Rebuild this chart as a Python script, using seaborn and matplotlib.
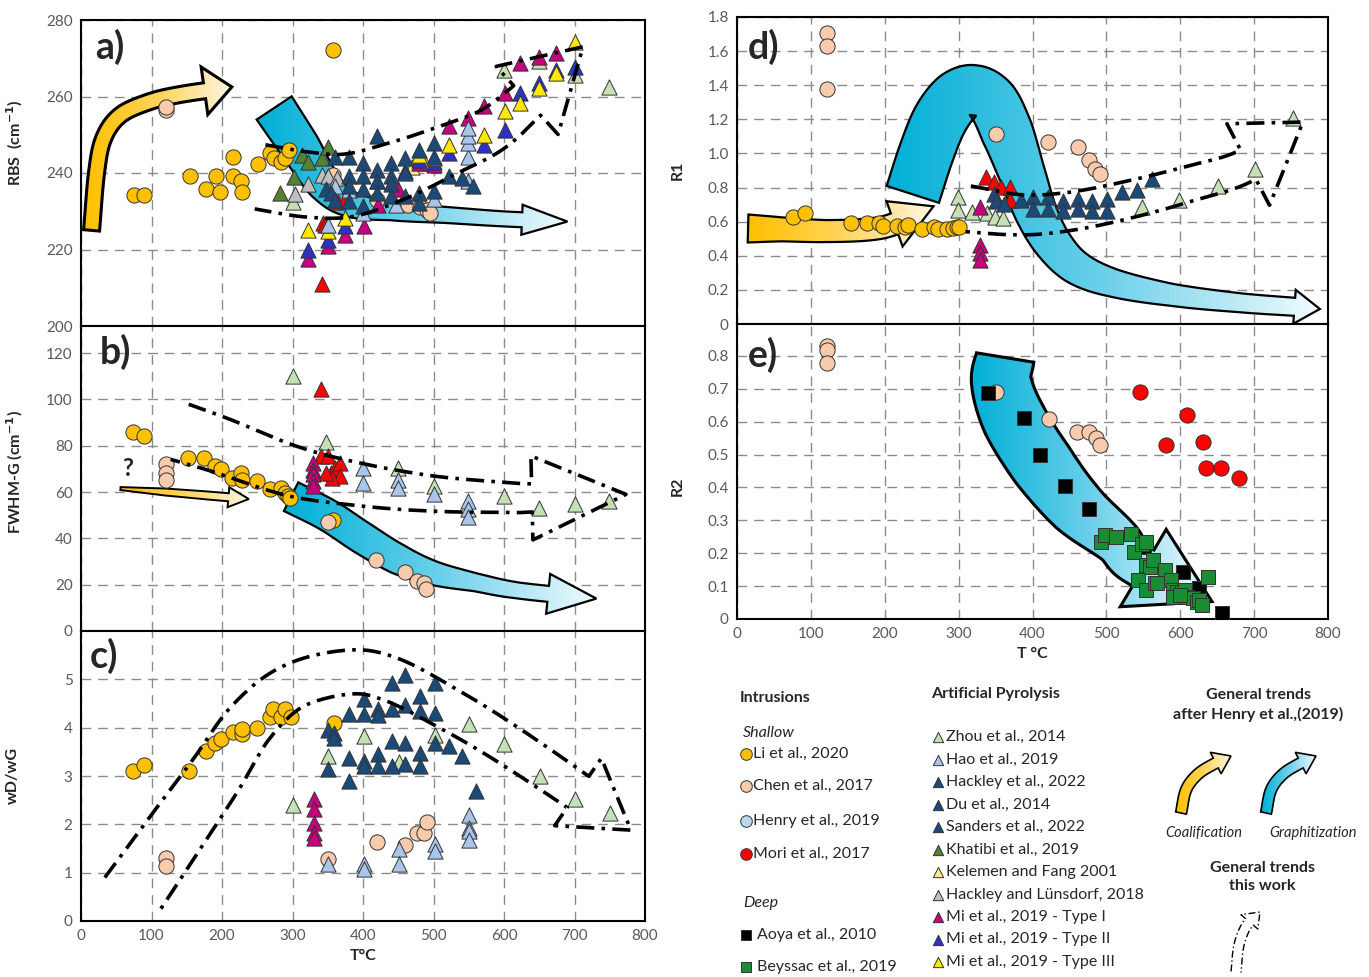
import numpy as np
import matplotlib
matplotlib.use('Agg')
import matplotlib.pyplot as plt
import seaborn as sns
from matplotlib.patches import Polygon
from matplotlib.colors import LinearSegmentedColormap

# ---------------- data (T in °C, value) ----------------
# a) RBS
a_li = [(75, 234.2), (90, 234.2), (154, 239.1), (177, 235.9), (191, 239.1), (197, 235), (215, 244.3), (216, 239.1),
        (227, 238), (229, 235), (251, 242.3), (268, 245.1), (274, 243.9), (284, 243), (289, 243.9), (295, 246.1), (358, 272.2)]
a_chen = [(121, 256.5), (121, 257.2), (357, 239.5), (420, 233), (464, 231.6), (481, 231.1), (491, 230.3), (495, 229.5)]
a_zhou = [(301, 232.5), (600, 266.8), (649, 269.4), (701, 265.7), (749, 262.4)]
a_hao = [(350, 226.5), (360, 236.5), (380, 235.5), (400, 229.6), (447, 231.7), (501, 233.2), (549, 237.8), (549, 244.3),
         (549, 247.8), (549, 249.6), (549, 251.7)]
a_grey = [(304, 234.5), (322, 237.1), (342, 239.5), (350, 239.2), (363, 238.7)]
a_khatibi = [(282, 234.8), (302, 239), (313, 244.7), (322, 242.9), (342, 243.9), (350, 246.8)]
a_kelemen = [(470, 241.5), (488, 242.5)]
a_mi1 = [(322, 217.6), (350, 220.9), (375, 223.9), (402, 226.1), (421, 231.7), (450, 235.7), (460, 240.4), (480, 242.6),
         (501, 242.2), (522, 252.2), (549, 254.3), (572, 257.4), (602, 260.9), (623, 268.7), (649, 270.4), (674, 271.3)]
a_mi2 = [(322, 220), (350, 222.6), (375, 226.1), (480, 243.5), (501, 243), (522, 245.2), (572, 247.4), (602, 251.3),
         (623, 260.9), (649, 263.5), (674, 267), (700, 267.8)]
a_mi3 = [(322, 225.2), (350, 224.8), (375, 228.3), (420, 237.8), (480, 244.6), (501, 243.9), (522, 247.4), (572, 250),
         (602, 256.1), (623, 258.3), (649, 262.2), (674, 266.1), (700, 274.3)]
a_red = [(342, 210.9), (343, 227), (346, 226.5), (364, 232.4), (374, 233)]
a_dblue = [(348, 235.7), (354, 234.8), (360, 233), (360, 244.3), (380, 244.3), (380, 239.1), (380, 236.5), (380, 232.6),
           (400, 242.6), (400, 239.1), (400, 235.7), (400, 231.5), (420, 249.6), (420, 240.9), (420, 238), (420, 234.8),
           (440, 242.6), (440, 239.1), (440, 237), (440, 233.9), (460, 243.9), (460, 240), (460, 233.9), (480, 246.1),
           (480, 234.8), (480, 232.2), (501, 247.8), (501, 244.3), (501, 235.2), (522, 239.1), (540, 238.7), (556, 236.5)]

# b) FWHM-G
b_li = [(74, 86), (90, 84), (152, 74.7), (175, 74.7), (190, 71.1), (198, 70.1), (214, 66.1), (227, 68.3), (229, 65.4),
        (250, 64.7), (268, 61.2), (284, 61.9), (289, 59.7), (294, 58.3), (297, 57.6), (357, 48.1)]
b_chen = [(120, 72.1), (120, 68.3), (120, 65.4), (350, 46.9), (419, 30.6), (459, 25.6), (476, 21.8), (486, 20.6), (490, 18.1)]
b_zhou = [(300, 110.2), (348, 81.8), (450, 70.4), (501, 62.6), (600, 58.3), (649, 53.3), (700, 55), (749, 56.2)]
b_hao = [(400, 70.4), (400, 64), (450, 65.4), (450, 61.9), (501, 59), (549, 56.2), (549, 52.6), (549, 49.1)]
b_red = [(340, 104.6), (340, 75.4), (350, 75.4), (354, 68.3), (360, 70.4), (368, 72.5), (368, 66.9), (356, 66.1), (348, 68.3)]
b_mi1 = [(329, 72.5), (329, 69.7), (329, 67.6), (329, 64.7), (329, 62.6)]

# c) wD/wG
c_li = [(74, 3.10), (90, 3.22), (153, 3.10), (177, 3.52), (190, 3.69), (198, 3.77), (216, 3.91), (228, 3.86), (229, 3.98),
        (250, 4.0), (268, 4.23), (272, 4.38), (284, 4.23), (289, 4.38), (298, 4.23), (359, 4.10)]
c_chen = [(120, 1.31), (120, 1.14), (351, 1.28), (420, 1.63), (460, 1.57), (476, 1.83), (486, 1.83), (491, 2.05)]
c_zhou = [(300, 2.41), (351, 3.41), (401, 3.83), (451, 3.28), (502, 3.84), (551, 4.07), (600, 3.66), (651, 3.0),
          (701, 2.53), (750, 2.23)]
c_hao = [(351, 1.17), (401, 1.17), (401, 1.07), (451, 1.48), (451, 1.17), (502, 1.59), (502, 1.45), (551, 2.19),
         (551, 1.93), (551, 1.86), (551, 1.68)]
c_mi1 = [(330, 2.52), (330, 2.31), (330, 2.03), (330, 1.83), (330, 1.72)]
c_dblue = [(351, 3.95), (359, 3.9), (359, 3.79), (351, 3.14), (380, 4.28), (380, 3.38), (380, 2.9), (401, 4.59), (401, 4.28),
           (401, 3.31), (401, 3.21), (421, 4.38), (421, 4.26), (421, 3.45), (421, 3.21), (441, 4.93), (441, 4.38),
           (441, 3.72), (441, 3.21), (460, 5.10), (460, 4.46), (460, 3.69), (460, 3.24), (481, 4.66), (481, 4.34),
           (481, 3.48), (481, 3.21), (502, 4.93), (502, 4.31), (502, 3.69), (522, 3.62), (541, 3.41), (560, 2.69)]

# d) R1
d_li = [(76, 0.626), (92, 0.65), (154, 0.591), (176, 0.591), (192, 0.591), (198, 0.577), (216, 0.577), (228, 0.568),
        (231, 0.583), (251, 0.558), (266, 0.568), (272, 0.558), (284, 0.558), (292, 0.562), (298, 0.568), (301, 0.568)]
d_chen = [(122, 1.706), (122, 1.628), (122, 1.378), (351, 1.112), (421, 1.070), (462, 1.037), (476, 0.959), (485, 0.910),
          (491, 0.881)]
d_zhou = [(299, 0.744), (299, 0.668), (318, 0.657), (338, 0.651), (349, 0.627), (360, 0.621), (548, 0.686), (598, 0.727),
          (651, 0.812), (701, 0.91), (752, 1.209)]
d_red = [(337, 0.862), (348, 0.832), (358, 0.803), (369, 0.803), (369, 0.727)]
d_mi1 = [(329, 0.686), (329, 0.463), (329, 0.416), (329, 0.375)]
d_dblue = [(348, 0.763), (351, 0.724), (361, 0.704), (384, 0.728), (401, 0.744), (401, 0.675), (421, 0.744), (421, 0.675),
           (441, 0.724), (441, 0.665), (462, 0.734), (462, 0.675), (481, 0.724), (481, 0.665), (501, 0.734), (501, 0.665),
           (521, 0.773), (541, 0.783), (562, 0.851)]

# e) R2
e_chen = [(122, 0.83), (122, 0.818), (122, 0.779), (351, 0.69), (422, 0.609), (460, 0.568), (476, 0.568), (486, 0.551),
          (491, 0.53)]
e_aoya = [(340, 0.688), (388, 0.612), (410, 0.5), (444, 0.405), (476, 0.334), (551, 0.22), (604, 0.144), (626, 0.093),
          (656, 0.017)]
e_mori = [(545, 0.69), (609, 0.62), (581, 0.53), (631, 0.538), (635, 0.459), (655, 0.459), (679, 0.428)]
e_beyssac = [(493, 0.235), (498, 0.255), (513, 0.25), (533, 0.258), (537, 0.205), (548, 0.228), (554, 0.235), (554, 0.164),
             (559, 0.158), (563, 0.179), (579, 0.149), (543, 0.119), (554, 0.088), (566, 0.109), (568, 0.109), (588, 0.119),
             (590, 0.088), (595, 0.082), (602, 0.082), (606, 0.088), (609, 0.067), (617, 0.064), (622, 0.052), (626, 0.058),
             (629, 0.043), (638, 0.128), (590, 0.067), (599, 0.073)]

# trend arrows: centreline T, value
a_coal_T = [15, 22, 32, 55, 95, 140, 214]
a_coal_v = [225, 240, 249, 255, 258.5, 260.5, 262.5]
a_graph_T = [274, 310, 345, 380, 440, 520, 600, 690]
a_graph_v = [257, 247, 237, 232, 230, 229, 228, 227.3]
a_this_T = [254, 320, 380, 450, 520, 580, 630, 712]
a_this_v = [239, 237, 236.8, 240.7, 246, 251, 258.5, 273]
b_coal_T = [56, 120, 180, 238]
b_coal_v = [61.5, 60, 58.5, 57]
b_graph_T = [298, 350, 400, 450, 500, 560, 620, 731]
b_graph_v = [58, 50, 40, 31, 25, 21, 17.5, 14]
b_this_T = [140, 200, 300, 400, 500, 600, 643, 773]
b_this_v = [86, 80, 69, 63, 59.3, 57.7, 57.5, 59]
c_this_T = [71, 130, 190, 240, 300, 380, 440, 520, 600, 705, 780]
c_this_v = [0.52, 1.75, 3.0, 4.1, 4.85, 5.15, 5.0, 4.4, 3.7, 2.67, 1.88]
d_coal_T = [15, 60, 120, 180, 215, 266]
d_coal_v = [0.56, 0.555, 0.545, 0.555, 0.59, 0.69]
d_graph_T = [238, 256, 275, 298, 322, 346, 366, 386, 405, 428, 460, 510, 590, 680, 757, 789]
d_graph_v = [0.76, 1.0, 1.2, 1.33, 1.37, 1.3, 1.12, 0.88, 0.65, 0.47, 0.33, 0.24, 0.17, 0.125, 0.1, 0.088]
d_this_T = [313, 384, 450, 525, 610, 692, 766]
d_this_v = [0.675, 0.64, 0.66, 0.724, 0.82, 0.935, 1.184]
e_graph_T = [363, 358, 375, 413, 460, 513, 544, 643]
e_graph_v = [0.795, 0.72, 0.607, 0.47, 0.34, 0.24, 0.163, 0.053]

# ---------------- styles ----------------
sns.set_style('white')
plt.rcParams['font.family'] = ['Lato', 'DejaVu Sans']

C = dict(li='#FFC000', chen='#F8CBAD', henry='#BDD7EE', mori='#FF0000', aoya='#000000', beyssac='#1A8C34',
         zhou='#C5E0B4', hao='#A9C6EA', dblue='#1C4A78', khatibi='#548235', kelemen='#FFE699', grey='#BFBFBF',
         mi1='#C8007E', mi2='#2E32C4', mi3='#FFE800', red='#FF0000')
yellow_cm = LinearSegmentedColormap.from_list('coal', ['#FFC000', '#FFD45A', '#FFF6E4'])
blue_cm = LinearSegmentedColormap.from_list('graph', ['#00AFD6', '#6CD0EA', '#F2FBFE'])
DASH = (0, (5, 2, 1, 2))


def pts(ax, data, key, marker, s, z=4):
    arr = np.array(data)
    sns.scatterplot(x=arr[:, 0], y=arr[:, 1], marker=marker, s=s, color=C[key], edgecolor='#333333',
                    linewidth=0.7, ax=ax, zorder=z, legend=False)


def catmull(p, n=24):
    P = np.vstack([2 * p[0] - p[1], p, 2 * p[-1] - p[-2]])
    out = []
    t = np.linspace(0, 1, n, endpoint=False)[:, None]
    for i in range(1, len(P) - 2):
        p0, p1, p2, p3 = P[i - 1], P[i], P[i + 1], P[i + 2]
        out.append(0.5 * (2 * p1 + (-p0 + p2) * t + (2 * p0 - 5 * p1 + 4 * p2 - p3) * t ** 2
                          + (-p0 + 3 * p1 - 3 * p2 + p3) * t ** 3))
    out.append(p[-1][None])
    return np.vstack(out)


def outline(ax, xs, ys, widths, hw, hl):
    pix = ax.transData.transform(np.column_stack([xs, ys]))
    seg = np.r_[0, np.cumsum(np.hypot(*np.diff(pix, axis=0).T))]
    cur = catmull(pix)
    s = np.r_[0, np.cumsum(np.hypot(*np.diff(cur, axis=0).T))]
    L = s[-1]
    w = np.interp(s / L * seg[-1], seg, widths)
    keep = s <= L - hl
    c, wb = cur[keep], w[keep]
    d = np.gradient(c, axis=0)
    d /= np.hypot(d[:, 0], d[:, 1])[:, None]
    nrm = np.column_stack([-d[:, 1], d[:, 0]])
    left = c + nrm * wb[:, None] / 2
    right = c - nrm * wb[:, None] / 2
    head = np.array([c[-1] + nrm[-1] * hw, cur[-1], c[-1] - nrm[-1] * hw])
    poly = np.vstack([left, head, right[::-1]])
    return ax.transData.inverted().transform(poly)


def band(ax, xs, ys, widths, hw, hl, cmap, lw=1.6, z=2):
    poly = outline(ax, xs, ys, widths, hw, hl)
    patch = Polygon(poly, closed=True, facecolor='none', edgecolor='black', lw=lw, zorder=z + 0.1)
    ax.add_patch(patch)
    x0, y0 = poly.min(0)
    x1, y1 = poly.max(0)
    im = ax.imshow(np.linspace(0, 1, 256)[None, :], extent=[x0, x1, y0, y1], origin='lower', cmap=cmap,
                   aspect='auto', zorder=z, interpolation='bilinear')
    im.set_clip_path(patch)


def dashed(ax, xs, ys, widths, hw, hl, lw=2.6):
    poly = outline(ax, xs, ys, widths, hw, hl)
    ax.plot(poly[:, 0], poly[:, 1], color='black', lw=lw, linestyle=DASH, zorder=6)


# ---------------- figure ----------------
W, H = 1369, 977
fig = plt.figure(figsize=(W / 100, H / 100), dpi=100)


def box(x0, y0, x1, y1):
    return [x0 / W, 1 - y1 / H, (x1 - x0) / W, (y1 - y0) / H]


lg = fig.add_axes([0, 0, 1, 1])
lg.set_xlim(0, W)
lg.set_ylim(H, 0)
lg.axis('off')

ax_a = fig.add_axes(box(81, 20, 645, 326))
ax_b = fig.add_axes(box(81, 326, 645, 631))
ax_c = fig.add_axes(box(81, 631, 645, 921))
ax_d = fig.add_axes(box(737, 17, 1328, 324))
ax_e = fig.add_axes(box(737, 324, 1328, 619))

lims = {ax_a: ((0, 800), (200, 280), np.arange(200, 281, 20)),
        ax_b: ((0, 800), (0, 131.7), np.arange(0, 121, 20)),
        ax_c: ((0, 800), (0, 6), np.arange(0, 6, 1)),
        ax_d: ((0, 800), (0, 1.8), np.arange(0, 1.81, 0.2)),
        ax_e: ((0, 800), (0, 0.897), np.arange(0, 0.81, 0.1))}

for ax, (xl, yl, yt) in lims.items():
    ax.set_xlim(*xl)
    ax.set_ylim(*yl)
    ax.set_xticks(np.arange(0, 801, 100))
    ax.set_yticks(yt)
    ax.set_axisbelow(True)
    ax.grid(True, color='#8C8C8C', linestyle=(0, (7, 5)), lw=1)
    ax.tick_params(length=0, labelsize=11, labelcolor='#595959', pad=6)
    for sp in ax.spines.values():
        sp.set_color('black')
        sp.set_linewidth(1.5)

ax_d.set_yticklabels(['0'] + [f'{v:.1f}' for v in np.arange(0.2, 1.81, 0.2)])
ax_e.set_yticklabels(['0'] + [f'{v:.1f}' for v in np.arange(0.1, 0.81, 0.1)])
for ax in (ax_a, ax_b, ax_d):
    ax.tick_params(labelbottom=False)

# --- a ---
band(ax_a, a_coal_T, a_coal_v, [16] * 7, 24, 26, yellow_cm, lw=2.2)
band(ax_a, a_graph_T, a_graph_v, [42, 40, 34, 26, 18, 16, 15, 15], 15, 45, blue_cm)
dashed(ax_a, a_this_T, a_this_v, [65, 65, 63, 58, 50, 45, 40, 40], 46, 75)
pts(ax_a, a_li, 'li', 'o', 120)
pts(ax_a, a_chen, 'chen', 'o', 120)
for data, key in [(a_zhou, 'zhou'), (a_grey, 'grey'), (a_khatibi, 'khatibi'), (a_kelemen, 'kelemen'),
                  (a_mi1, 'mi1'), (a_mi2, 'mi2'), (a_mi3, 'mi3'), (a_red, 'red'), (a_hao, 'hao'), (a_dblue, 'dblue')]:
    pts(ax_a, data, key, '^', 120)

# --- b ---
band(ax_b, b_coal_T, b_coal_v, [3, 7, 8, 8], 10, 20, yellow_cm, lw=1.4)
band(ax_b, b_graph_T, b_graph_v, [32, 32, 32, 30, 24, 18, 16, 16], 20, 47, blue_cm)
dashed(ax_b, b_this_T, b_this_v, [58, 55, 50, 42, 35, 30, 28, 28], 42, 92)
pts(ax_b, b_li, 'li', 'o', 120)
pts(ax_b, b_chen, 'chen', 'o', 120)
for data, key in [(b_zhou, 'zhou'), (b_hao, 'hao'), (b_red, 'red'), (b_mi1, 'mi1')]:
    pts(ax_b, data, key, '^', 120)
ax_b.text(66, 70, '?', fontsize=17, fontweight='bold', ha='center', va='center')

# --- c ---
dashed(ax_c, c_this_T, c_this_v, [64, 60, 55, 50, 45, 44, 44, 42, 40, 38, 38], 41, 65)
pts(ax_c, c_li, 'li', 'o', 120)
pts(ax_c, c_chen, 'chen', 'o', 120)
for data, key in [(c_zhou, 'zhou'), (c_hao, 'hao'), (c_mi1, 'mi1'), (c_dblue, 'dblue')]:
    pts(ax_c, data, key, '^', 120)

# --- d ---
band(ax_d, d_graph_T, d_graph_v, [55, 55, 55, 54, 50, 52, 52, 46, 42, 38, 34, 28, 22, 19, 18, 18], 17, 24, blue_cm)
band(ax_d, d_coal_T, d_coal_v, [28, 24, 22, 22, 22, 22], 24, 42, yellow_cm, lw=1.6)
dashed(ax_d, d_this_T, d_this_v, [46, 40, 38, 37, 35, 33, 33], 46, 69)
pts(ax_d, d_li, 'li', 'o', 120)
pts(ax_d, d_chen, 'chen', 'o', 120)
for data, key in [(d_zhou, 'zhou'), (d_red, 'red'), (d_mi1, 'mi1'), (d_dblue, 'dblue')]:
    pts(ax_d, data, key, '^', 120)

# --- e ---
band(ax_e, e_graph_T, e_graph_v, [58, 60, 64, 64, 58, 48, 42, 42], 45, 75, blue_cm, lw=2.2)
pts(ax_e, e_chen, 'chen', 'o', 120)
pts(ax_e, e_mori, 'mori', 'o', 120)
pts(ax_e, e_aoya, 'aoya', 's', 100)
pts(ax_e, e_beyssac, 'beyssac', 's', 100)

# axis labels
lab = dict(fontsize=11.5, fontweight='bold')
ax_a.set_ylabel('RBS  (cm$^{\\mathbf{-1}}$)', **lab)
ax_a.yaxis.set_label_coords(-0.1, 0.6)
ax_b.set_ylabel('FWHM-G (cm$^{\\mathbf{-1}}$)', **lab)
ax_b.yaxis.set_label_coords(-0.1, 0.52)
ax_c.set_ylabel('wD/wG', **lab)
ax_c.yaxis.set_label_coords(-0.108, 0.5)
ax_c.set_xlabel('T°C', **lab)
ax_d.set_ylabel('R1', **lab)
ax_d.yaxis.set_label_coords(-0.088, 0.5)
ax_e.set_ylabel('R2', **lab)
ax_e.yaxis.set_label_coords(-0.088, 0.45)
ax_e.set_xlabel('T °C', **lab)

for ax, t, x, y in [(ax_a, 'a)', 0.025, 0.97), (ax_b, 'b)', 0.034, 0.975), (ax_c, 'c)', 0.016, 0.975),
                    (ax_d, 'd)', 0.019, 0.96), (ax_e, 'e)', 0.019, 0.955)]:
    ax.text(x, y, t, transform=ax.transAxes, ha='left', va='top', fontsize=27, fontweight='bold', zorder=7)

for ax, (xl, yl, yt) in lims.items():
    ax.set_xlim(*xl)
    ax.set_ylim(*yl)

# ---------------- legend ----------------
intr_labels = ['Li et al., 2020', 'Chen et al., 2017', 'Henry et al., 2019', 'Mori et al., 2017']
intr_keys = ['li', 'chen', 'henry', 'mori']
deep_labels = ['Aoya et al., 2010', 'Beyssac et al., 2019']
deep_keys = ['aoya', 'beyssac']
pyro_labels = ['Zhou et al., 2014', 'Hao et al., 2019', 'Hackley et al., 2022', 'Du et al., 2014',
               'Sanders et al., 2022', 'Khatibi et al., 2019', 'Kelemen and Fang 2001',
               'Hackley and Lünsdorf, 2018', 'Mi et al., 2019 - Type I', 'Mi et al., 2019 - Type II',
               'Mi et al., 2019 - Type III']
pyro_keys = ['zhou', 'hao', 'dblue', 'dblue', 'dblue', 'khatibi', 'kelemen', 'grey', 'mi1', 'mi2', 'mi3']

fs = 11.5
lg.text(740, 698, 'Intrusions', fontsize=fs, fontweight='bold', va='center')
lg.text(743, 733, 'Shallow', fontsize=fs, style='italic', va='center')
lg.text(743, 903, 'Deep', fontsize=fs, style='italic', va='center')
for lab_, key, y in zip(intr_labels, intr_keys, [754, 786, 821, 854]):
    lg.scatter([746], [y], s=70, marker='o', color=C[key], edgecolor='#333333', linewidth=0.7)
    lg.text(753, y, lab_, fontsize=fs, va='center')
for lab_, key, y in zip(deep_labels, deep_keys, [935, 967]):
    lg.scatter([746], [y], s=60, marker='s', color=C[key], edgecolor='#333333', linewidth=0.7)
    lg.text(757, y, lab_, fontsize=fs, va='center')
lg.text(931, 694, 'Artificial Pyrolysis', fontsize=fs, fontweight='bold', va='center')
for i, (lab_, key) in enumerate(zip(pyro_labels, pyro_keys)):
    y = 737 + i * 22.5
    lg.scatter([938], [y], s=55, marker='^', color=C[key], edgecolor='#333333', linewidth=0.7)
    lg.text(946, y, lab_, fontsize=fs, va='center')

lg.text(1258, 705, 'General trends\nafter Henry et al.,(2019)', fontsize=fs, fontweight='bold',
        ha='center', va='center', linespacing=1.45)
lg.text(1262, 877, 'General trends\nthis work', fontsize=fs, fontweight='bold', ha='center', va='center',
        linespacing=1.45)
lg.text(1204, 833, 'Coalification', fontsize=10.5, style='italic', ha='center', va='center')
lg.text(1313, 833, 'Graphitization', fontsize=10.5, style='italic', ha='center', va='center')
band(lg, [1181, 1186, 1197, 1212, 1231], [813, 790, 775, 765, 756], [11] * 5, 12, 16, yellow_cm, lw=1.2)
band(lg, [1266, 1271, 1282, 1297, 1316], [813, 790, 775, 765, 756], [11] * 5, 12, 16, blue_cm, lw=1.2)
poly = outline(lg, [1236, 1239, 1247, 1260], [972, 945, 925, 912], [10] * 4, 11, 14)
lg.plot(poly[:, 0], poly[:, 1], color='black', lw=1, linestyle=DASH)
lg.set_xlim(0, W)
lg.set_ylim(H, 0)

fig.savefig('out.png', dpi=100)
